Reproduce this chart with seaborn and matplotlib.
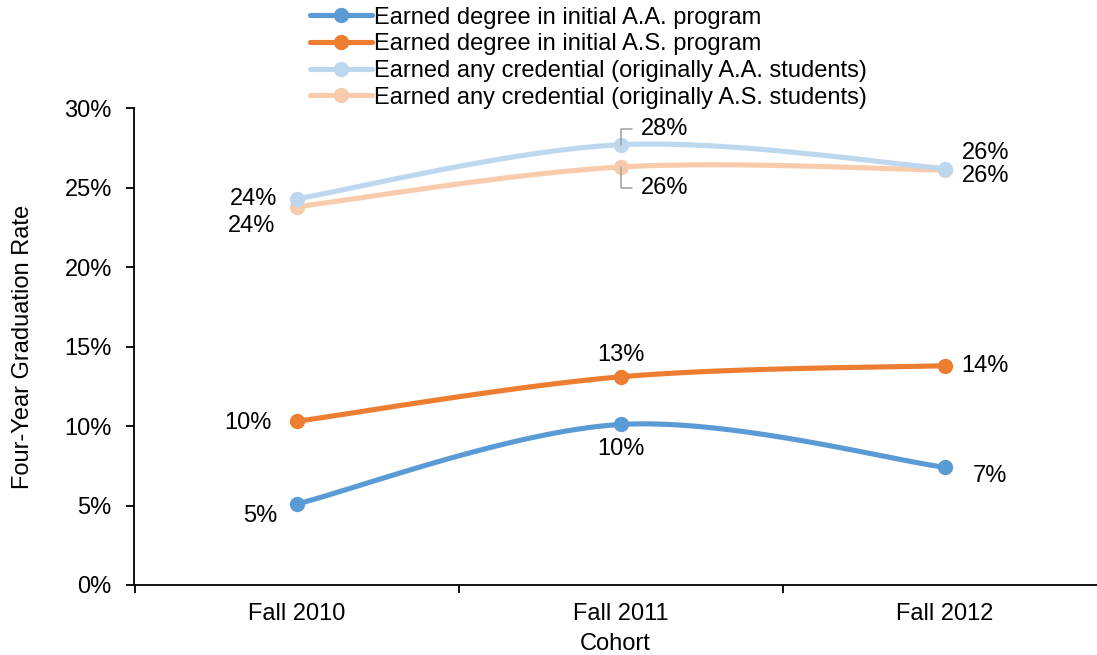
import numpy as np
import pandas as pd
import seaborn as sns
import matplotlib.pyplot as plt

cohorts = ["Fall 2010", "Fall 2011", "Fall 2012"]
aa_degree = [5.1, 10.1, 7.4]
as_degree = [10.3, 13.1, 13.8]
aa_any = [24.3, 27.7, 26.2]
as_any = [23.8, 26.3, 26.1]

series = ["Earned degree in initial A.A. program",
          "Earned degree in initial A.S. program",
          "Earned any credential (originally A.A. students)",
          "Earned any credential (originally A.S. students)"]
colors = ["#5B9BD5", "#ED7D31", "#BDD7EE", "#F8CBAD"]


def smooth(y, n=60):
    # Excel style bezier smoothing through the points
    x = np.arange(len(y), dtype=float)
    p = np.column_stack([x, np.asarray(y, dtype=float)])
    pts = []
    for i in range(len(p) - 1):
        p0 = p[max(i - 1, 0)]
        p3 = p[min(i + 2, len(p) - 1)]
        c1 = p[i] + (p[i + 1] - p0) / 6
        c2 = p[i + 1] - (p3 - p[i]) / 6
        t = np.linspace(0, 1, n)[:, None]
        seg = ((1 - t) ** 3 * p[i] + 3 * (1 - t) ** 2 * t * c1
               + 3 * (1 - t) * t ** 2 * c2 + t ** 3 * p[i + 1])
        pts.append(seg)
    return np.vstack(pts)


sns.set_theme(style="white")
plt.rcParams["font.family"] = ["Liberation Sans", "DejaVu Sans"]
plt.rcParams["text.color"] = "black"
plt.rcParams["axes.labelcolor"] = "black"
plt.rcParams["xtick.color"] = "black"
plt.rcParams["ytick.color"] = "black"

fig = plt.figure(figsize=(10.97, 6.55), dpi=100)
ax = fig.add_axes([0.1222, 0.1069, 0.8778, 0.728])

values = [aa_degree, as_degree, aa_any, as_any]
handles = {}
for i in [3, 2, 1, 0]:
    curve = smooth(values[i])
    df = pd.DataFrame({"x": curve[:, 0], "y": curve[:, 1]})
    sns.lineplot(data=df, x="x", y="y", ax=ax, color=colors[i], lw=3.7,
                 sort=False, estimator=None)
    ax.plot(range(len(cohorts)), values[i], "o", color=colors[i], ms=10)
    handles[i] = plt.Line2D([], [], color=colors[i], lw=3.7, marker="o", ms=10)

# data labels: (series, point, offset in points, ha)
labels = [
    (0, 0, (-14, -9), "right"),
    (0, 1, (0, -18), "center"),
    (0, 2, (20, -6), "left"),
    (1, 0, (-18, -1), "right"),
    (1, 1, (0, 16), "center"),
    (1, 2, (12, 0), "left"),
    (2, 0, (-14, 0), "right"),
    (2, 2, (12, 11), "left"),
    (3, 0, (-16, -14), "right"),
    (3, 2, (12, -4), "left"),
]
for s, p, off, ha in labels:
    ax.annotate(f"{values[s][p]:.0f}%", (p, values[s][p]), xytext=off,
                textcoords="offset points", ha=ha, va="center", fontsize=17)

# leader lines at Fall 2011 for the credential series
for s, dy in [(2, 11), (3, -15)]:
    ax.annotate(f"{values[s][1]:.0f}%", (1, values[s][1]), xytext=(14, dy),
                textcoords="offset points", ha="left", va="center",
                fontsize=17,
                arrowprops=dict(arrowstyle="-", color="#A6A6A6", lw=1.2,
                                connectionstyle="angle,angleA=0,angleB=90,rad=0",
                                shrinkA=4, shrinkB=0))

ax.set_ylim(0, 30)
ax.set_xlim(-0.503, 2.469)
ax.set_yticks(range(0, 31, 5))
ax.set_yticklabels([f"{v}%" for v in range(0, 31, 5)], fontsize=17)
ax.set_xticks(range(len(cohorts)))
ax.set_xticklabels(cohorts, fontsize=17)
ax.set_xticks([-0.5, 0.5, 1.5], minor=True)
ax.tick_params(axis="x", which="major", length=0, pad=13)
ax.tick_params(axis="x", which="minor", length=6, width=1.3, color="black",
               direction="out", bottom=True)
ax.tick_params(axis="y", length=6, width=1.3, color="black", direction="out",
               left=True, pad=10)
for side in ["top", "right"]:
    ax.spines[side].set_visible(False)
for side in ["left", "bottom"]:
    ax.spines[side].set_color("black")
    ax.spines[side].set_linewidth(1.3)
ax.set_xlabel("Cohort", fontsize=17, labelpad=6)
ax.set_ylabel("Four-Year Graduation Rate", fontsize=17, labelpad=22)

fig.legend([handles[i] for i in range(4)], series, loc="upper left",
           bbox_to_anchor=(0.283, 0.99), frameon=False, fontsize=17,
           handlelength=2.6, handletextpad=0.1, labelspacing=0.2,
           borderpad=0, borderaxespad=0)

fig.savefig("out.png", dpi=100)
